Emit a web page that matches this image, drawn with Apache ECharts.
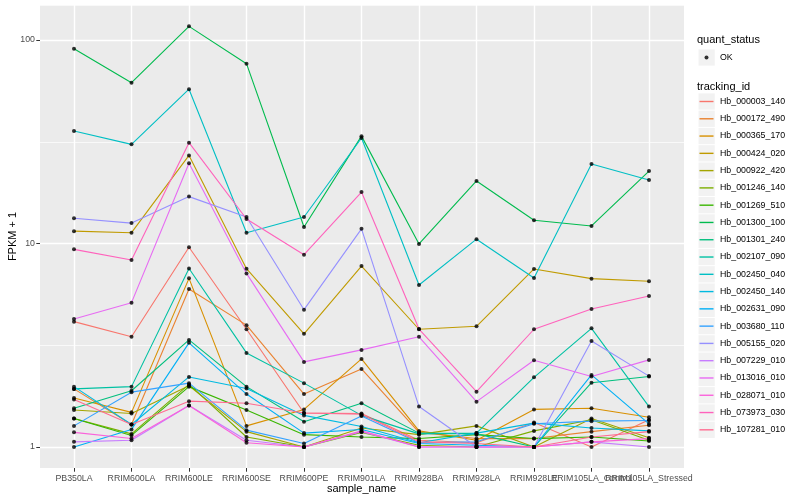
<!DOCTYPE html>
<html><head><meta charset="utf-8">
<script src="https://cdn.jsdelivr.net/npm/echarts@6/dist/echarts.min.js"></script>
<style>html,body{margin:0;padding:0;background:#fff}#c{width:800px;height:500px}</style>
</head><body><div id="c"></div>
<script>
// ---- data ----
const categories = ['PB350LA','RRIM600LA','RRIM600LE','RRIM600SE','RRIM600PE','RRIM901LA','RRIM928BA','RRIM928LA','RRIM928LE','RRIM105LA_Control','RRIM105LA_Stressed'];
const trackingIds = ['Hb_000003_140','Hb_000172_490','Hb_000365_170','Hb_000424_020','Hb_000922_420','Hb_001246_140','Hb_001269_510','Hb_001300_100','Hb_001301_240','Hb_002107_090','Hb_002450_040','Hb_002450_140','Hb_002631_090','Hb_003680_110','Hb_005155_020','Hb_007229_010','Hb_013016_010','Hb_028071_010','Hb_073973_030','Hb_107281_010'];
const seriesColors = ['#F8766D','#EA8331','#D89000','#C09B00','#A3A500','#7CAE00','#39B600','#00BB4E','#00BF7D','#00C1A3','#00BFC4','#00BAE0','#00B0F6','#35A2FF','#9590FF','#C77CFF','#E76BF3','#FA62DB','#FF62BC','#FF6C91'];
const Hb_000003_140 = [4.13, 3.48, 9.58, 3.79, 1.47, 1.46, 1.08, 1.05, 1.32, 1.00, 1.36];
const Hb_000172_490 = [1.93, 1.29, 5.98, 3.97, 1.82, 2.42, 1.18, 1.10, 1.10, 1.19, 1.28];
const Hb_000365_170 = [1.74, 1.48, 6.74, 1.27, 1.53, 2.71, 1.20, 1.08, 1.53, 1.55, 1.40];
const Hb_000424_020 = [11.5, 11.3, 27.1, 7.52, 3.60, 7.75, 3.79, 3.92, 7.50, 6.72, 6.52];
const Hb_000922_420 = [1.52, 1.46, 2.00, 1.19, 1.00, 1.24, 1.15, 1.27, 1.00, 1.38, 1.11];
const Hb_001246_140 = [1.38, 1.16, 2.03, 1.12, 1.00, 1.18, 1.02, 1.00, 1.20, 1.36, 1.08];
const Hb_001269_510 = [1.38, 1.14, 1.98, 1.52, 1.15, 1.12, 1.10, 1.15, 1.10, 1.12, 1.07];
const Hb_001300_100 = [90.6, 61.7, 116.7, 76.5, 12.05, 33.7, 9.95, 20.3, 13.0, 12.2, 22.7];
const Hb_001301_240 = [1.55, 1.89, 3.36, 1.98, 1.33, 1.64, 1.17, 1.16, 1.00, 2.07, 2.22];
const Hb_002107_090 = [1.93, 1.98, 7.54, 2.90, 2.06, 1.43, 1.16, 1.17, 2.20, 3.83, 1.58];
const Hb_002450_040 = [35.7, 30.7, 57.3, 11.3, 13.5, 33.0, 6.25, 10.5, 6.77, 24.6, 20.5];
const Hb_002450_140 = [1.98, 1.29, 2.21, 1.94, 1.43, 1.26, 1.05, 1.17, 1.31, 1.24, 1.20];
const Hb_002631_090 = [1.00, 1.22, 3.25, 1.82, 1.17, 1.22, 1.04, 1.02, 1.00, 2.26, 1.30];
const Hb_003680_110 = [1.27, 1.86, 2.06, 1.21, 1.04, 1.42, 1.05, 1.06, 1.30, 1.34, 1.35];
const Hb_005155_020 = [13.3, 12.6, 17.0, 13.5, 4.73, 11.8, 1.58, 1.00, 1.00, 3.32, 2.23];
const Hb_007229_010 = [1.06, 1.08, 1.60, 1.08, 1.00, 1.19, 1.00, 1.00, 1.00, 1.06, 1.00];
const Hb_013016_010 = [4.26, 5.12, 24.8, 7.13, 2.62, 3.00, 3.48, 1.67, 2.67, 2.22, 2.68];
const Hb_028071_010 = [1.18, 1.10, 1.60, 1.05, 1.00, 1.20, 1.00, 1.00, 1.00, 1.06, 1.10];
const Hb_073973_030 = [9.36, 8.30, 31.3, 13.2, 8.81, 17.9, 3.80, 1.87, 3.79, 4.77, 5.52];
const Hb_107281_010 = [1.71, 1.29, 1.68, 1.64, 1.47, 1.45, 1.06, 1.04, 1.00, 1.12, 1.19];
const seriesValues = [Hb_000003_140, Hb_000172_490, Hb_000365_170, Hb_000424_020, Hb_000922_420, Hb_001246_140, Hb_001269_510, Hb_001300_100, Hb_001301_240, Hb_002107_090, Hb_002450_040, Hb_002450_140, Hb_002631_090, Hb_003680_110, Hb_005155_020, Hb_007229_010, Hb_013016_010, Hb_028071_010, Hb_073973_030, Hb_107281_010];
const yTickValues = [1, 10, 100];
const yLimits = [0.7885, 148.6];

// ---- chart ----
const FONT = '"Liberation Sans", Arial, Helvetica, sans-serif';
const chart = echarts.init(document.getElementById('c'), null, {renderer: 'canvas'});

const lineSeries = trackingIds.map((id, k) => ({
  type: 'line', name: id, xAxisIndex: 1, yAxisIndex: 2,
  data: seriesValues[k], symbol: 'none', clip: false, z: 2,
  lineStyle: {width: 1.1, color: seriesColors[k]}, itemStyle: {color: seriesColors[k]},
  emphasis: {disabled: true}, silent: true
}));
const pointData = [];
seriesValues.forEach(vals => vals.forEach((v, i) => pointData.push([i, v])));
const pointSeries = {
  type: 'scatter', name: 'OK', xAxisIndex: 1, yAxisIndex: 2, data: pointData,
  symbol: 'circle', symbolSize: 4, itemStyle: {color: '#000000'}, z: 3, clip: false,
  emphasis: {disabled: true}, silent: true
};

// legend key backgrounds
const keyW = 17.28;
const keyCentersY = [57.5].concat(trackingIds.map((_, i) => 101.5 + i * keyW));
const keyRects = keyCentersY.map(cy => ({
  type: 'rect', z: 0, silent: true,
  shape: {x: 698.5, y: cy - keyW / 2 + 0.5, width: keyW - 1, height: keyW - 1},
  style: {fill: '#F2F2F2'}
}));

const isDecade = v => Math.abs(Math.log10(v) - Math.round(Math.log10(v))) < 1e-6;

const option = {
  animation: false,
  textStyle: {fontFamily: FONT},
  title: [
    {text: 'quant_status', left: 697, top: 34, padding: 0, textStyle: {fontFamily: FONT, fontSize: 11, fontWeight: 'normal', color: '#000'}},
    {text: 'tracking_id', left: 697, top: 81, padding: 0, textStyle: {fontFamily: FONT, fontSize: 11, fontWeight: 'normal', color: '#000'}}
  ],
  graphic: keyRects,
  legend: [
    {data: [{name: 'OK', icon: 'circle'}], orient: 'vertical', left: 704.5, top: 57.5 - keyW / 2, padding: 0,
     itemWidth: 4, itemHeight: keyW, itemGap: 0, selectedMode: false, symbolKeepAspect: true,
     textStyle: {fontFamily: FONT, fontSize: 8.8, lineHeight: keyW, color: '#000', padding: [0, 0, 0, 6.5]}},
    {data: trackingIds.map(id => ({name: id, icon: 'path://M0 0H14V1.4H0Z'})), orient: 'vertical',
     left: 699.5, top: 101.5 - keyW / 2, padding: 0,
     itemWidth: 14, itemHeight: keyW, itemGap: 0, selectedMode: false, symbolKeepAspect: true,
     textStyle: {fontFamily: FONT, fontSize: 8.8, lineHeight: keyW, color: '#000', padding: [0, 0, 0, 1.5]}}
  ],
  grid: [
    {left: 40, right: 116, top: 5, bottom: 32, show: true, backgroundColor: '#EBEBEB', borderWidth: 0,
     containLabel: false, outerBoundsMode: 'none'},
    {left: 74, right: 151, top: 5, bottom: 32, show: false, containLabel: false, outerBoundsMode: 'none'}
  ],
  xAxis: [
    {gridIndex: 0, type: 'value', min: 0, max: 1, show: false},
    {gridIndex: 1, type: 'category', data: categories, boundaryGap: false,
     axisLine: {show: false},
     axisTick: {show: true, length: 3.7, lineStyle: {color: '#333333', width: 1}},
     axisLabel: {interval: 0, hideOverlap: false, color: '#4D4D4D', fontSize: 8.8, margin: 6, fontFamily: FONT},
     splitLine: {show: true, lineStyle: {color: '#FFFFFF', width: 1.4}},
     name: 'sample_name', nameLocation: 'middle', nameGap: 15, nameMoveOverlap: false,
     nameTextStyle: {color: '#000', fontSize: 11, fontFamily: FONT}}
  ],
  yAxis: [
    {gridIndex: 0, type: 'log', logBase: 10, min: yLimits[0], max: yLimits[1],
     axisLine: {show: false},
     axisTick: {show: true, length: 3.7, lineStyle: {color: '#333333', width: 1}, customValues: yTickValues},
     axisLabel: {color: '#4D4D4D', fontSize: 8.8, margin: 5, fontFamily: FONT, customValues: yTickValues,
                 formatter: v => isDecade(v) ? String(Math.round(v)) : ''},
     splitLine: {show: true, lineStyle: {color: '#FFFFFF', width: 1.4}},
     name: 'FPKM + 1', nameLocation: 'middle', nameGap: 22, nameRotate: 90, nameMoveOverlap: false,
     nameTextStyle: {color: '#000', fontSize: 11, fontFamily: FONT}},
    {gridIndex: 0, type: 'log', logBase: Math.sqrt(10), min: yLimits[0], max: yLimits[1],
     axisLine: {show: false}, axisTick: {show: false}, axisLabel: {show: false},
     splitLine: {show: true, lineStyle: {color: '#FFFFFF', width: 0.7}}},
    {gridIndex: 1, type: 'log', logBase: 10, min: yLimits[0], max: yLimits[1], show: false}
  ],
  series: lineSeries.concat([pointSeries])
};
chart.setOption(option);
</script>
</body></html>
